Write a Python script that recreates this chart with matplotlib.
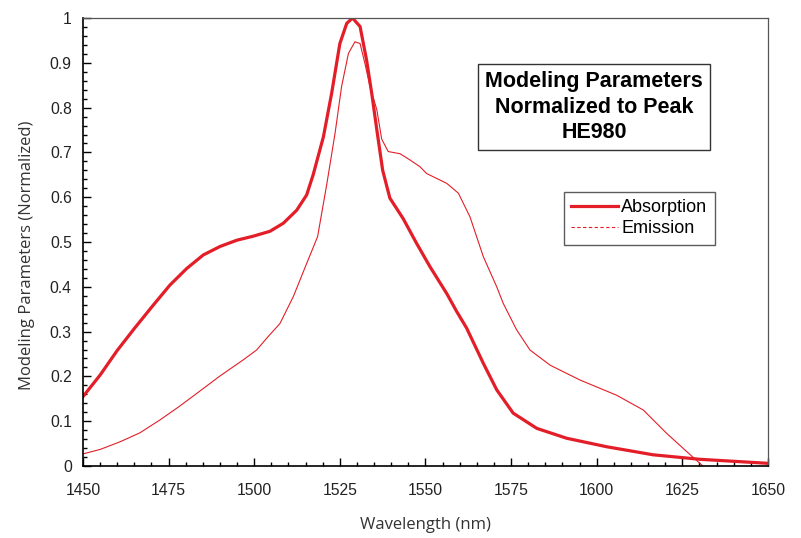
import matplotlib.pyplot as plt
from matplotlib.lines import Line2D
from matplotlib.ticker import MultipleLocator

# absorption curve (thick)
abs_wl = [1450, 1455, 1460, 1465, 1470.5, 1475.4, 1480.3, 1485.1, 1490, 1494.9,
          1499.7, 1504.6, 1508.5, 1512.4, 1515.3, 1517.2, 1520.2, 1522.6, 1525, 1527,
          1528.7, 1530.9, 1532.8, 1534.3, 1535.8, 1537.5, 1539.6, 1543.5, 1547.4, 1551.3,
          1556.2, 1559.1, 1562, 1566.9, 1570.8, 1575.6, 1582.5, 1591.2, 1602.9, 1616.5,
          1630.1, 1650]
abs_val = [0.155, 0.203, 0.258, 0.307, 0.359, 0.404, 0.441, 0.471, 0.490, 0.504,
           0.513, 0.524, 0.542, 0.571, 0.605, 0.650, 0.735, 0.832, 0.943, 0.988,
           1.0, 0.981, 0.906, 0.832, 0.75, 0.66, 0.598, 0.552, 0.497, 0.445,
           0.385, 0.345, 0.308, 0.229, 0.17, 0.118, 0.084, 0.062, 0.043, 0.025,
           0.015, 0.006]

# emission curve (thin)
em_wl = [1450, 1455, 1460.8, 1466.6, 1472.5, 1478.3, 1483.2, 1490, 1496.8, 1500.7,
         1503.6, 1507.5, 1511.4, 1515.3, 1518.5, 1521.2, 1523.6, 1525.5, 1527.5, 1529.4,
         1530.9, 1532.3, 1533.8, 1535.8, 1537.2, 1539.1, 1542.6, 1545.5, 1548.4, 1550.3,
         1556.2, 1559.6, 1563, 1566.9, 1570.8, 1572.7, 1576.6, 1580.5, 1586.4, 1595.1,
         1605.8, 1613.6, 1620.4, 1626.3, 1630.7, 1632]
em_val = [0.027, 0.037, 0.054, 0.074, 0.103, 0.134, 0.162, 0.201, 0.237, 0.259,
          0.285, 0.318, 0.378, 0.452, 0.512, 0.63, 0.743, 0.847, 0.921, 0.947,
          0.943, 0.899, 0.847, 0.795, 0.73, 0.702, 0.697, 0.683, 0.668, 0.653,
          0.631, 0.609, 0.556, 0.467, 0.40, 0.363, 0.304, 0.259, 0.225, 0.192,
          0.158, 0.125, 0.073, 0.032, 0.002, -0.01]

red = '#e31e28'

fig = plt.figure(figsize=(8.01, 5.38), dpi=100)
ax = fig.add_axes([0.1036, 0.1338, 0.8552, 0.8327])

ax.plot(abs_wl, abs_val, color=red, lw=2.3, solid_joinstyle='round')
ax.plot(em_wl, em_val, color=red, lw=0.8)

ax.set_xlim(1450, 1650)
ax.set_ylim(0, 1)
ax.xaxis.set_major_locator(MultipleLocator(25))
ax.xaxis.set_minor_locator(MultipleLocator(5))
ax.yaxis.set_minor_locator(MultipleLocator(0.02))
ax.set_yticks([0, 0.1, 0.2, 0.3, 0.4, 0.5, 0.6, 0.7, 0.8, 0.9, 1])
ax.set_yticklabels(['0', '0.1', '0.2', '0.3', '0.4', '0.5', '0.6', '0.7', '0.8', '0.9', '1'])
ax.tick_params(which='major', direction='in', length=6, width=1, labelsize=11.3)
ax.tick_params(which='minor', direction='in', length=3, width=1)
ax.tick_params(axis='x', which='major', pad=12)
ax.tick_params(axis='y', which='major', pad=8)
for lab in ax.get_xticklabels() + ax.get_yticklabels():
    lab.set_family('Liberation Sans')
    lab.set_color('#222222')

for s in ['top', 'right']:
    ax.spines[s].set_color('#555555')
    ax.spines[s].set_linewidth(0.9)
for s in ['left', 'bottom']:
    ax.spines[s].set_color('black')
    ax.spines[s].set_linewidth(1.2)

ax.set_xlabel('Wavelength (nm)', fontsize=12, family='Open Sans', color='#333333', labelpad=14)
ax.set_ylabel('Modeling Parameters (Normalized)', fontsize=12, family='Open Sans', color='#333333')
ax.yaxis.set_label_coords(-0.07, 0.471)

ax.text(1599.2, 0.801, 'Modeling Parameters\nNormalized to Peak\nHE980', fontsize=15.5,
        fontweight='bold', family='Liberation Sans', ha='center', va='center', linespacing=1.28,
        bbox=dict(boxstyle='square,pad=0.32', fc='white', ec='#333333', lw=1))

handles = [Line2D([], [], color=red, lw=2.3), Line2D([], [], color=red, lw=0.8, ls=(0, (3, 2.2)))]
leg = ax.legend(handles, ['Absorption', 'Emission'], loc='upper left',
                bbox_to_anchor=(0.702, 0.612), borderaxespad=0, frameon=True, fancybox=False,
                prop={'family': 'Liberation Sans', 'size': 13}, handlelength=2.6,
                handletextpad=0.15, borderpad=0.42, labelspacing=0.22)
leg.get_frame().set_edgecolor('#333333')
leg.get_frame().set_linewidth(1)

fig.savefig('out.png', dpi=100)
